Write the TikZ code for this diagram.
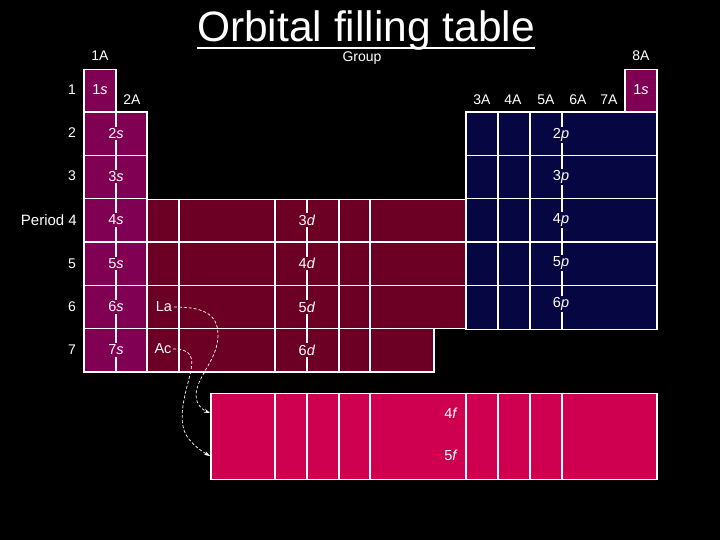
\documentclass[tikz,border=0pt]{standalone}
\usepackage{fontspec}
\setmainfont{Liberation Sans}
\usetikzlibrary{arrows.meta}
\definecolor{sblk}{RGB}{128,0,84}
\definecolor{dblk}{RGB}{108,0,36}
\definecolor{pblk}{RGB}{6,6,66}
\definecolor{fblk}{RGB}{208,0,80}
\begin{document}
\begin{tikzpicture}[x=1pt,y=-1pt,
  grid/.style={draw=white,line width=1.1pt},
  lbl/.style={text=white,font=\fontsize{14}{16}\selectfont,inner sep=1pt},
  cell/.style={text=white,font=\fontsize{14.5}{16}\selectfont,inner sep=1.5pt},
  conn/.style={draw=white,line width=0.7pt,dash pattern=on 3pt off 2pt,-{Stealth[length=6pt,width=4pt]}}]
\useasboundingbox (0,0) rectangle (720,540);
\fill[black] (0,0) rectangle (720,540);
% title
\node[text=white,font=\fontsize{42.5}{48}\selectfont,inner sep=0pt,text depth=0pt,anchor=base] (title) at (366,42) {Orbital filling table};
\draw[white,line width=2.8pt] ([yshift=-6pt]title.base west) -- ([yshift=-6pt]title.base east);
\node[lbl,font=\fontsize{14}{16}\selectfont,inner sep=0pt] (group) at (362,58.5) {Group};
% fills
\fill[sblk] (84,69.3) rectangle (116,112);
\fill[sblk] (84,112) rectangle (147,372);
\fill[sblk] (625,69.3) rectangle (657,112);
\fill[dblk] (147,199.3) rectangle (466,329.3);
\fill[dblk] (147,329.3) rectangle (434,372);
\fill[pblk] (466,112) rectangle (657,329.3);
\fill[fblk] (211,393.3) rectangle (657,479.3);
% s-block lines
\draw[grid] (84,112) -- (84,69.3) -- (116,69.3) -- (116,112);
\draw[grid] (84,112) rectangle (147,372);
\foreach \y in {155.3,198.7,242,285.3,328.7} \draw[grid] (84,\y) -- (147,\y);
\draw[grid] (116,112) -- (116,372);
\draw[grid] (625,112) -- (625,69.3) -- (657,69.3) -- (657,112);
% d-block lines
\draw[grid] (147,199.3) -- (466,199.3);
\foreach \y in {242,285.3,328.7} \draw[grid] (147,\y) -- (466,\y);
\draw[grid] (147,372) -- (434,372) -- (434,328.7);
\foreach \x in {179,275,307,339,370} \draw[grid] (\x,199.3) -- (\x,372);
% p-block lines
\draw[grid] (466,112) rectangle (657,329.3);
\foreach \y in {155.3,198.7,242,285.3} \draw[grid] (466,\y) -- (657,\y);
\foreach \x in {498,530,562} \draw[grid] (\x,112) -- (\x,329.3);
% f-block lines
\draw[grid] (211,393.3) rectangle (657,479.3);
\foreach \x in {275,307,339,370,466,498,530,562} \draw[grid] (\x,393.3) -- (\x,479.3);
% group labels
\node[lbl] (g1) at (100,55.7) {1A};
\node[lbl] (g2) at (132,100) {2A};
\node[lbl] (g3) at (482,100) {3A};
\node[lbl] (g4) at (513,100) {4A};
\node[lbl] (g5) at (546,100) {5A};
\node[lbl] (g6) at (578,100) {6A};
\node[lbl] (g7) at (609,100) {7A};
\node[lbl] (g8) at (641,55.7) {8A};
% period labels
\node[lbl] (p1) at (72,90) {1};
\node[lbl] (p2) at (72,133) {2};
\node[lbl] (p3) at (72,176) {3};
\node[lbl,font=\fontsize{15}{17}\selectfont,anchor=east] (p4) at (78,220) {Period 4};
\node[lbl] (p5) at (72,263.5) {5};
\node[lbl] (p6) at (72,307) {6};
\node[lbl] (p7) at (72,350) {7};
% s labels
\node[cell] (s1) at (100,90) {1\textit{s}};
\node[cell] (s1b) at (641,90) {1\textit{s}};
\node[cell,fill=sblk] (s2) at (116,133.5) {2\textit{s}};
\node[cell,fill=sblk] (s3) at (116,176.5) {3\textit{s}};
\node[cell,fill=sblk] (s4) at (116,220) {4\textit{s}};
\node[cell,fill=sblk] (s5) at (116,263.5) {5\textit{s}};
\node[cell,fill=sblk] (s6) at (116,307) {6\textit{s}};
\node[cell,fill=sblk] (s7) at (116,350) {7\textit{s}};
% d labels
\node[cell,fill=dblk] (d3) at (307,220) {3\textit{d}};
\node[cell,fill=dblk] (d4) at (307,263.5) {4\textit{d}};
\node[cell,fill=dblk] (d5) at (307,307) {5\textit{d}};
\node[cell,fill=dblk] (d6) at (307,350) {6\textit{d}};
\node[cell] (La) at (164,307) {La};
\node[cell] (Ac) at (163,349) {Ac};
% p labels
\node[cell,fill=pblk] (p2p) at (561,135) {2\textit{p}};
\node[cell,fill=pblk] (p3p) at (561,177) {3\textit{p}};
\node[cell,fill=pblk] (p4p) at (561,220) {4\textit{p}};
\node[cell,fill=pblk] (p5p) at (561,263) {5\textit{p}};
\node[cell,fill=pblk] (p6p) at (561,304) {6\textit{p}};
% f labels
\node[cell] (f4) at (451,413) {4\textit{f}};
\node[cell] (f5) at (451,455) {5\textit{f}};
% arrows
\coordinate (tLa) at (210,413);
\coordinate (tAc) at (210,456);
\draw[conn] (La.east) .. controls (200,307) and (218,312) .. (218,335)
  .. controls (218,360) and (197,375) .. (196,395)
  .. controls (196,405) and (203,410) .. (tLa);
\draw[conn] (Ac.east) .. controls (192,349) and (193,358) .. (191,370)
  .. controls (187,390) and (175,420) .. (188,438)
  .. controls (195,447) and (203,452) .. (tAc);
\end{tikzpicture}
\end{document}
